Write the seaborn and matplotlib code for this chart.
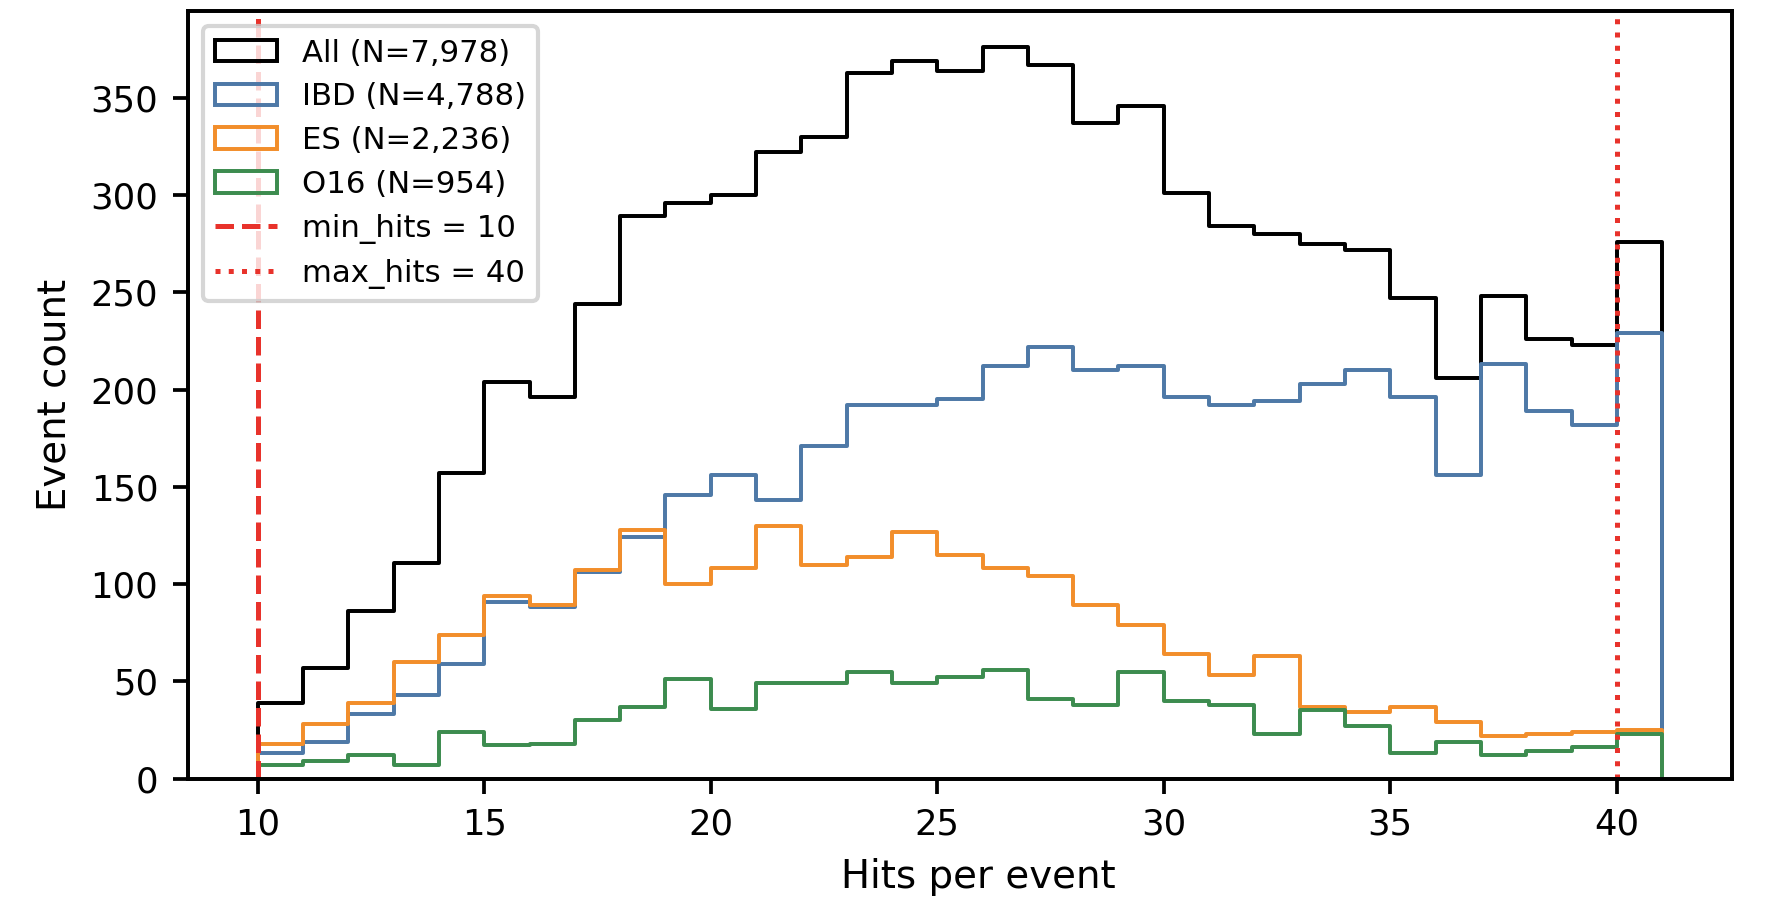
import numpy as np
import pandas as pd
import matplotlib
matplotlib.use("Agg")
import matplotlib.pyplot as plt
import seaborn as sns

# One bin per hit count, 10..41
hit_min, hit_max = 10, 41
hits = np.arange(hit_min, hit_max)

# Event counts per bin
all_counts = [39, 57, 86, 111, 157, 204, 196, 244, 289, 296, 300, 322, 330, 363, 369, 364,
              376, 367, 337, 346, 301, 284, 280, 275, 272, 247, 206, 248, 226, 223, 276]
ibd_counts = [13, 19, 33, 43, 59, 91, 88, 106, 124, 146, 156, 143, 171, 192, 192, 195,
              212, 222, 210, 212, 196, 192, 194, 203, 210, 196, 156, 213, 189, 182, 229]
es_counts = [18, 28, 39, 60, 74, 94, 89, 107, 128, 100, 108, 130, 110, 114, 127, 115,
             108, 104, 89, 79, 64, 53, 63, 37, 34, 37, 29, 22, 23, 24, 25]
o16_counts = [7, 9, 12, 7, 24, 17, 18, 30, 37, 51, 36, 49, 49, 55, 49, 52,
              56, 41, 38, 55, 40, 38, 23, 35, 27, 13, 19, 12, 14, 16, 23]

labels = ["All (N=7,978)", "IBD (N=4,788)", "ES (N=2,236)", "O16 (N=954)"]
colors = ["black", "#4e79a7", "#f28e2b", "#3d8c4f"]
min_hits = 10
max_hits = 40

# plain matplotlib look: black text, closed frame
sns.set_style("ticks", {"text.color": "black", "axes.labelcolor": "black",
                        "xtick.color": "black", "ytick.color": "black",
                        "axes.edgecolor": "black"})
plt.rcParams["font.family"] = ["DejaVu Sans"]

fig, ax = plt.subplots(figsize=(5.953, 2.997), dpi=300)
fig.subplots_adjust(left=0.105, right=0.970, top=0.988, bottom=0.134)

for counts, label, color in zip([all_counts, ibd_counts, es_counts, o16_counts], labels, colors):
    df = pd.DataFrame({"hits": hits + 0.5, "count": counts})
    sns.histplot(data=df, x="hits", weights="count", binwidth=1, binrange=(hit_min, hit_max),
                 element="step", fill=True, facecolor="none", color=color, linewidth=0.95,
                 label=label, ax=ax)

ax.axvline(min_hits, color="#e8322b", linestyle="--", linewidth=1.2, label=f"min_hits = {min_hits}")
ax.axvline(max_hits, color="#e8322b", linestyle=":", linewidth=1.2, label=f"max_hits = {max_hits}")

ax.set_xlabel("Hits per event", fontsize=9.3)
ax.set_ylabel("Event count", fontsize=9.3)
ax.xaxis.label.set_x(0.512)
ax.tick_params(labelsize=8.5, width=0.9)
for s in ax.spines.values():
    s.set_visible(True)
    s.set_linewidth(0.95)
    s.set_zorder(3)

ax.legend(loc="upper left", fontsize=7.4, labelspacing=0.48)

fig.savefig("out.png", dpi=300)
